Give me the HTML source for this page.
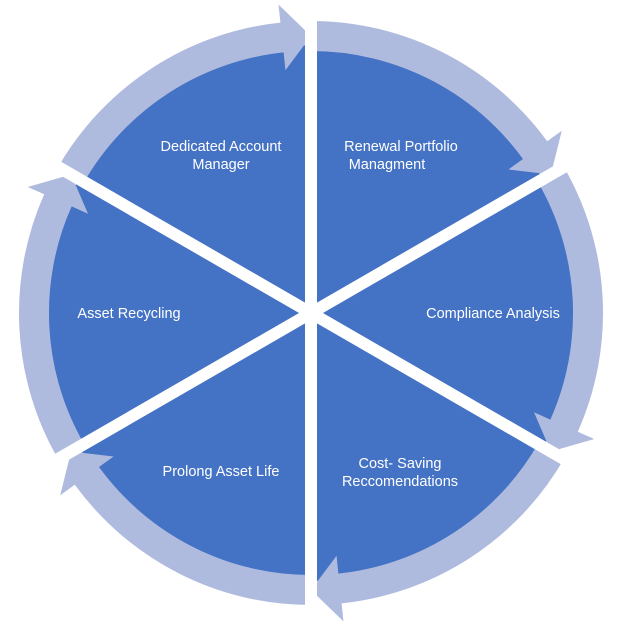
<!DOCTYPE html>
<html><head><meta charset="utf-8"><style>
html,body{margin:0;padding:0;background:#fff;width:622px;height:627px;overflow:hidden;}
svg{display:block;}
text{font-family:"Liberation Sans",sans-serif;font-size:14.5px;fill:#fff;text-anchor:middle;}
</style></head><body>
<svg width="622" height="627" viewBox="0 0 622 627" xmlns="http://www.w3.org/2000/svg" overflow="hidden">
<g transform="translate(311,313)">
<circle r="268" fill="#4472C4"/>
<g fill="#AFBBDE">
<path id="s" d="M0,-292 A292,292 0 0 1 236.2,-171.7 L250.8,-182.3 L239.9,-138.5 L197.4,-143.5 L212.0,-154.0 A262,262 0 0 0 0,-262 Z"/>
<use href="#s" transform="rotate(60)"/>
<use href="#s" transform="rotate(120)"/>
<use href="#s" transform="rotate(180)"/>
<use href="#s" transform="rotate(240)"/>
<use href="#s" transform="rotate(300)"/>
</g>
<g stroke="#fff" stroke-width="12">
<line x1="0" y1="-300" x2="0" y2="300"/>
<line x1="0" y1="-300" x2="0" y2="300" transform="rotate(60)"/>
<line x1="0" y1="-300" x2="0" y2="300" transform="rotate(120)"/>
</g>
</g>
<text x="221" y="151">Dedicated Account</text>
<text x="221" y="169">Manager</text>
<text x="401" y="151">Renewal Portfolio</text>
<text x="387" y="169">Managment</text>
<text x="493" y="318">Compliance Analysis</text>
<text x="400" y="468">Cost- Saving</text>
<text x="400" y="486">Reccomendations</text>
<text x="221" y="476">Prolong Asset Life</text>
<text x="129" y="318">Asset Recycling</text>
</svg>
</body></html>
